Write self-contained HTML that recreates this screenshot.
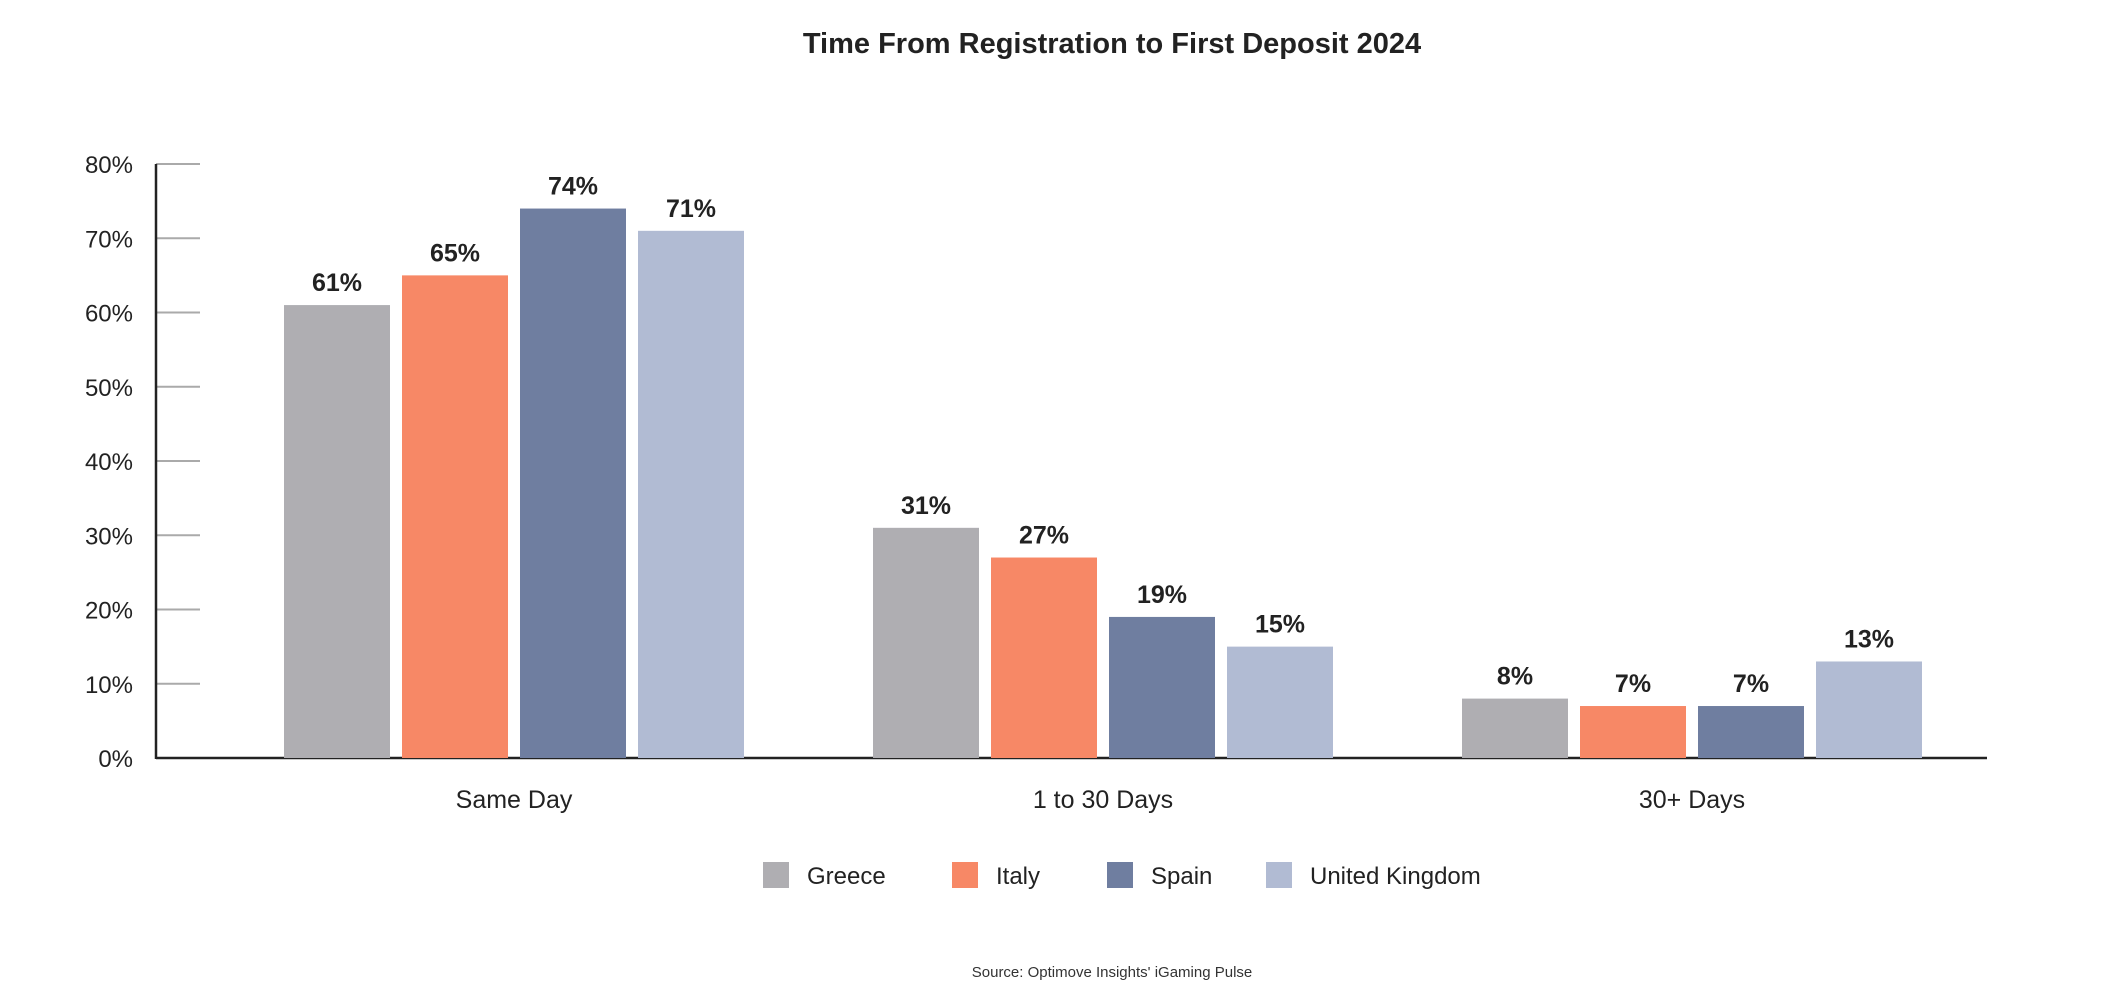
<!DOCTYPE html>
<html><head><meta charset="utf-8"><style>
html,body{margin:0;padding:0;background:#fff;}
svg{display:block;font-family:"Liberation Sans",sans-serif;}
</style></head><body>
<svg id="chart" width="2111" height="985" viewBox="0 0 2111 985">
<text x="1112" y="53" text-anchor="middle" font-size="29" font-weight="bold" fill="#222">Time From Registration to First Deposit 2024</text>
<g id="axes"></g><g id="bars"></g><g id="legend"></g>
<text x="1112" y="977" text-anchor="middle" font-size="15" fill="#333">Source: Optimove Insights' iGaming Pulse</text>
</svg>
<script>
const categories=["Same Day","1 to 30 Days","30+ Days"];
const seriesNames=["Greece","Italy","Spain","United Kingdom"];
const greece=[61,31,8];
const italy=[65,27,7];
const spain=[74,19,7];
const uk=[71,15,13];
const tickValues=[0,10,20,30,40,50,60,70,80];
const colors=["#afaeb2","#f78866","#6f7ea0","#b1bbd3"];
const series=[greece,italy,spain,uk];
const NS="http://www.w3.org/2000/svg";
const x0=156,x1=1987,yBase=758,yTop=164,vMax=80;
const y=v=>yBase-(v/vMax)*(yBase-yTop);
const groupX=i=>284+i*589;
const barX=(i,s)=>groupX(i)+s*118;
const bw=106;
function mk(t,a){const e=document.createElementNS(NS,t);for(const k in a)e.setAttribute(k,a[k]);return e;}
const axes=document.getElementById('axes'),bars=document.getElementById('bars'),legend=document.getElementById('legend');
tickValues.forEach(v=>{
 const l=mk('line',{x1:x0,x2:x0+44,y1:y(v),y2:y(v),stroke:'#aaa','stroke-width':2});
 
 
 axes.appendChild(l);
 const t=mk('text',{x:133,y:y(v)+9,'text-anchor':'end','font-size':24,fill:'#222'});
 
 
 t.textContent=v+'%';axes.appendChild(t);
});
const ya=mk('line',{x1:x0,x2:x0,y1:yTop,y2:yBase+1,stroke:'#222','stroke-width':2.5});


axes.appendChild(ya);
categories.forEach((c,i)=>{
 const t=mk('text',{x:groupX(i)+230,y:808,'text-anchor':'middle','font-size':25,fill:'#222'});
 
 
 t.textContent=c;axes.appendChild(t);
 series.forEach((s,k)=>{
  const r=mk('rect',{x:barX(i,k),y:y(s[i]),width:bw,height:yBase-y(s[i]),fill:colors[k]});
  
  
  bars.appendChild(r);
  const t2=mk('text',{x:barX(i,k)+bw/2,y:y(s[i])-14,'text-anchor':'middle','font-size':25,'font-weight':'bold',fill:'#222'});
  
  
  t2.textContent=s[i]+'%';bars.appendChild(t2);
 });
});
const xa=mk('line',{x1:x0,x2:x1,y1:yBase,y2:yBase,stroke:'#222','stroke-width':2.5});


axes.appendChild(xa);
const legX=[763,952,1107,1266];
seriesNames.forEach((n,k)=>{
 const g=mk('g',{});
 
 
 g.appendChild(mk('rect',{x:legX[k],y:862,width:26,height:26,fill:colors[k]}));
 const t=mk('text',{x:legX[k]+44,y:884,'font-size':24,fill:'#222'});
 t.textContent=n;g.appendChild(t);legend.appendChild(g);
});
</script>
</body></html>
